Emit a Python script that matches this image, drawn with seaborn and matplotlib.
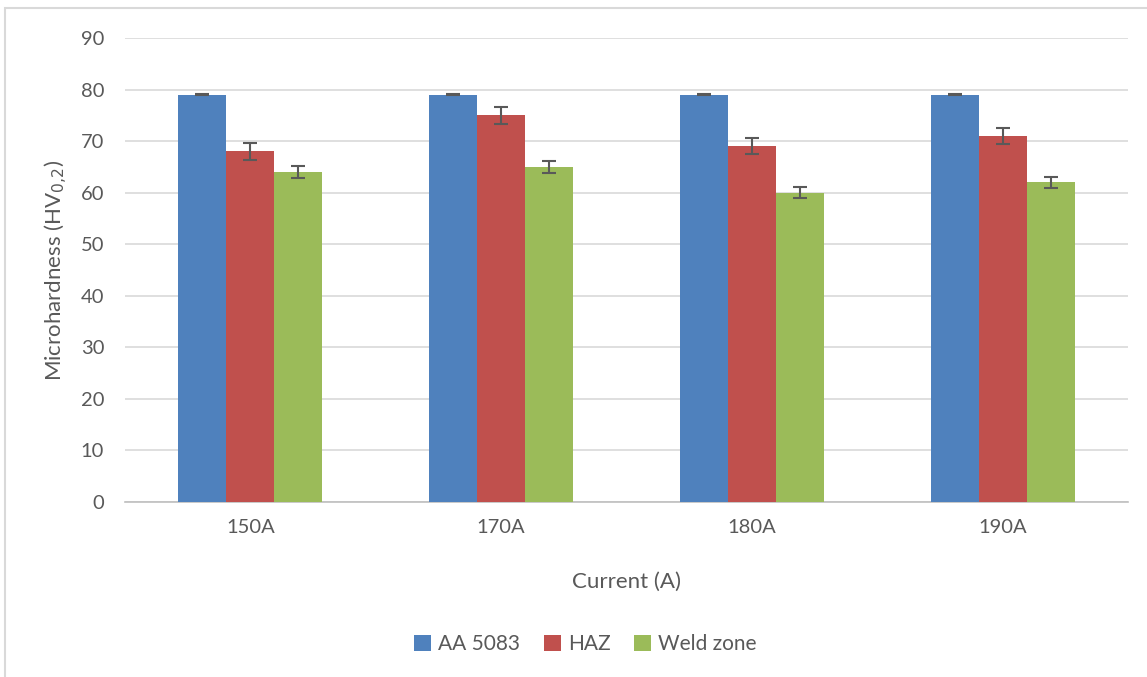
import numpy as np
import pandas as pd
import matplotlib
matplotlib.use('Agg')
import matplotlib.pyplot as plt
import seaborn as sns
from matplotlib.patches import Rectangle

# data
currents = ['150A', '170A', '180A', '190A']
zones = ['AA 5083', 'HAZ', 'Weld zone']
aa5083 = [79, 79, 79, 79]
haz = [68, 75, 69, 71]
weld = [64, 65, 60, 62]
aa5083_err = [0.1, 0.1, 0.1, 0.1]
haz_err = [1.6, 1.6, 1.6, 1.6]
weld_err = [1.1, 1.1, 1.1, 1.1]

colors = ['#4F81BD', '#C0504D', '#9BBB59']

df = pd.DataFrame({
    'Current': currents * 3,
    'Zone': np.repeat(zones, len(currents)),
    'HV': aa5083 + haz + weld,
    'err': aa5083_err + haz_err + weld_err,
})

sns.set_theme(style='white')
plt.rcParams['font.family'] = ['Lato', 'DejaVu Sans']
txt = '#595959'

fig = plt.figure(figsize=(11.47, 6.77), dpi=100)
ax = fig.add_axes([0.109, 0.2585, 0.8745, 0.6854])

sns.barplot(data=df, x='Current', y='HV', hue='Zone', hue_order=zones,
            palette=colors, errorbar=None, width=0.574, saturation=1,
            edgecolor='none', ax=ax, zorder=3)

# error bars at bar centres
for cont, zone in zip(ax.containers, zones):
    sub = df[df['Zone'] == zone]
    xs = [p.get_x() + p.get_width() / 2 for p in cont.patches]
    ax.errorbar(xs, sub['HV'].values, yerr=sub['err'].values, fmt='none',
                ecolor=txt, elinewidth=1.5, capsize=5, capthick=1.5, zorder=4)

ax.set_ylim(0, 90)
ax.set_xlim(-0.5, 3.5)
ax.set_yticks(range(0, 91, 10))
ax.yaxis.grid(True, color='#D9D9D9', linewidth=1.2, zorder=0)
ax.set_axisbelow(True)
for s in ['top', 'right', 'left']:
    ax.spines[s].set_visible(False)
ax.spines['bottom'].set_color('#BFBFBF')
ax.spines['bottom'].set_linewidth(1.2)

ax.set_xticks(np.arange(-0.5, 4, 1), minor=True)
ax.tick_params(axis='x', which='minor', length=7, color='#BFBFBF', width=1.2)
ax.tick_params(axis='x', which='major', length=0, pad=12, labelsize=14.5, labelcolor=txt)
ax.tick_params(axis='y', length=0, pad=15, labelsize=14.5, labelcolor=txt)

ax.set_xlabel('Current (A)', fontsize=16, color=txt, labelpad=26)
ax.set_ylabel('Microhardness (HV$_{0{,}2}$)', fontsize=16, color=txt, labelpad=8)

ax.legend(loc='upper center', bbox_to_anchor=(0.459, -0.245), ncol=3, frameon=False,
          fontsize=15, labelcolor=txt, handlelength=0.8, handleheight=0.8,
          handletextpad=0.35, columnspacing=1.15)

fig.patches.append(Rectangle((5 / 1147, -0.1), 1.2, 1 - 8 / 677 + 0.1,
                             transform=fig.transFigure, fill=False,
                             edgecolor='#D9D9D9', linewidth=1.5))

plt.savefig('out.png', dpi=100)
plt.close()
